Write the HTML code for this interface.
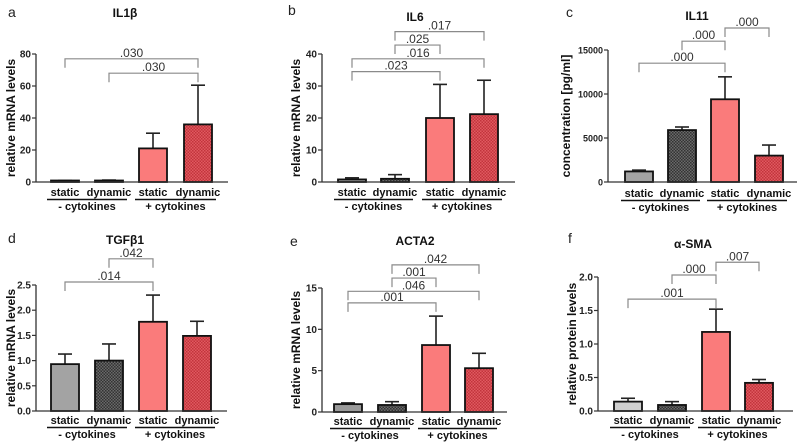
<!DOCTYPE html>
<html><head><meta charset="utf-8"><style>
html,body{margin:0;padding:0;background:#fff;}
svg{display:block;font-family:"Liberation Sans",Arial,sans-serif;}
</style></head><body>
<svg id="fig" width="800" height="443" viewBox="0 0 800 443" xmlns="http://www.w3.org/2000/svg">
<defs>
<pattern id="hatchDark" width="3" height="3" patternUnits="userSpaceOnUse"><rect width="3" height="3" fill="#6a6a6a"/><rect width="1.5" height="1.5" fill="#333"/><rect x="1.5" y="1.5" width="1.5" height="1.5" fill="#333"/></pattern>
<pattern id="hatchRed" width="3" height="3" patternUnits="userSpaceOnUse"><rect width="3" height="3" fill="#e05a60"/><rect width="1.5" height="1.5" fill="#c2343c"/><rect x="1.5" y="1.5" width="1.5" height="1.5" fill="#c2343c"/></pattern>
</defs>
</svg>
<script>
// categories
const categories = ["static","dynamic","static","dynamic"];
const groups = ["- cytokines","+ cytokines"];
// panel a IL1b
const aMeans = [0.7, 0.8, 21, 36];
const aErr = [0.9, 1.2, 30.5, 60.5];
const aTicks = [0, 20, 40, 60, 80];
const aBrackets = [[0,3,77,".030"],[1,3,68,".030"]];
// panel b IL6
const bMeans = [0.8, 1.0, 20, 21.2];
const bErr = [1.3, 2.3, 30.5, 31.8];
const bTicks = [0, 10, 20, 30, 40];
const bBrackets = [[1,3,47,".017"],[1,2,42.8,".025"],[0,3,38.5,".016"],[0,2,34.5,".023"]];
// panel c IL11
const cMeans = [1200, 5900, 9400, 3000];
const cErr = [1350, 6250, 11950, 4200];
const cTicks = [0, 5000, 10000, 15000];
const cBrackets = [[2,3,17500,".000"],[1,2,16000,".000"],[0,2,13500,".000"]];
// panel d TGFb1
const dMeans = [0.93, 1.0, 1.77, 1.49];
const dErr = [1.13, 1.33, 2.3, 1.78];
const dTicks = [0, 0.5, 1.0, 1.5, 2.0, 2.5];
const dBrackets = [[1,2,3.02,".042"],[0,2,2.56,".014"]];
// panel e ACTA2
const eMeans = [0.95, 0.85, 8.1, 5.3];
const eErr = [1.1, 1.25, 11.6, 7.1];
const eTicks = [0, 5, 10, 15];
const eBrackets = [[1,3,17.8,".042"],[1,2,16.2,".001"],[0,3,14.6,".046"],[0,2,13.2,".001"]];
// panel f aSMA
const fMeans = [0.14, 0.09, 1.18, 0.42];
const fErr = [0.19, 0.14, 1.52, 0.47];
const fTicks = [0, 0.5, 1.0, 1.5, 2.0];
const fBrackets = [[2,3,2.22,".007"],[1,2,2.03,".000"],[0,2,1.67,".001"]];

const NS="http://www.w3.org/2000/svg";
const svg=document.getElementById('fig');
function mk(tag,attrs,parent,text){const e=document.createElementNS(NS,tag);for(const k in attrs)e.setAttribute(k,attrs[k]);if(text!==undefined)e.textContent=text;(parent||svg).appendChild(e);return e;}

const panels=[
 {id:'a',letter:'a',lx:8,ly:17,title:'IL1β',tx:125,ty:17,ax:36,axEnd:228,y0:182,yTop:54,max:80,centers:[65,109,153,198],means:aMeans,err:aErr,ticks:aTicks,dec:0,tf:10,br:aBrackets,ylab:'relative mRNA levels',ylx:12,lab:196,c1:'#a3a3a3'},
 {id:'b',letter:'b',lx:288,ly:15,title:'IL6',tx:415,ty:21,ax:322,axEnd:515,y0:182,yTop:54,max:40,centers:[352,395,440,484],means:bMeans,err:bErr,ticks:bTicks,dec:0,tf:10,br:bBrackets,ylab:'relative mRNA levels',ylx:297,lab:196,c1:'#a3a3a3'},
 {id:'c',letter:'c',lx:566,ly:17,title:'IL11',tx:697,ty:20,ax:608,axEnd:797,y0:182,yTop:50,max:15000,centers:[639,682,725,769],means:cMeans,err:cErr,ticks:cTicks,dec:0,tf:9,br:cBrackets,ylab:'concentration [pg/ml]',ylx:567,lab:197,c1:'#a3a3a3'},
 {id:'d',letter:'d',lx:8,ly:243,title:'TGFβ1',tx:125,ty:244,ax:36,axEnd:227,y0:411,yTop:285,max:2.5,centers:[65,109,153,197],means:dMeans,err:dErr,ticks:dTicks,dec:1,tf:10,br:dBrackets,ylab:'relative mRNA levels',ylx:12,lab:424,c1:'#a3a3a3'},
 {id:'e',letter:'e',lx:290,ly:246,title:'ACTA2',tx:415,ty:245,ax:322,axEnd:507,y0:412,yTop:288,max:15,centers:[348,392,436,479],means:eMeans,err:eErr,ticks:eTicks,dec:0,tf:10,br:eBrackets,ylab:'relative mRNA levels',ylx:297,lab:425,c1:'#9a9a9a'},
 {id:'f',letter:'f',lx:568,ly:243,title:'α-SMA',tx:693,ty:248,ax:598,axEnd:793,y0:411,yTop:277,max:2.0,centers:[628,672,716,759],means:fMeans,err:fErr,ticks:fTicks,dec:1,tf:10,br:fBrackets,ylab:'relative protein levels',ylx:573,lab:424,c1:'#cfcfcf'}
];

panels.forEach(p=>{
 const g=mk('g',{});
 
 
 const Y=v=>p.y0-(v/p.max)*(p.y0-p.yTop);
 const pl=mk('text',{x:p.lx,y:p.ly,'font-size':14,fill:'#222'},g,p.letter);
 
 
 const t=mk('text',{x:p.tx,y:p.ty,'font-size':12,'font-weight':'bold','text-anchor':'middle',fill:'#111'},g,p.title);
 
 
 const yl=mk('text',{x:p.ylx,y:(p.y0+p.yTop)/2,'font-size':12,'font-weight':'bold','text-anchor':'middle',fill:'#111',transform:`rotate(-90 ${p.ylx} ${(p.y0+p.yTop)/2})`,'dominant-baseline':'middle'},g,p.ylab);
 
 
 const fills=[p.c1,'url(#hatchDark)','#fa7b7b','url(#hatchRed)'];
 const bw=28;
 p.means.forEach((m,i)=>{
  const cx=p.centers[i];
  const el=mk('line',{x1:cx,x2:cx,y1:Y(m),y2:Y(p.err[i]),stroke:'#222','stroke-width':1.6},g);
  
  
  const cap=mk('line',{x1:cx-7,x2:cx+7,y1:Y(p.err[i]),y2:Y(p.err[i]),stroke:'#222','stroke-width':1.6},g);
  
  
  const h=Math.max(p.y0-Y(m),1.5);
  const r=mk('rect',{x:cx-bw/2,y:p.y0-h,width:bw,height:h,fill:fills[i],stroke:'#111','stroke-width':1.8},g);
  
  
  const cl=mk('text',{x:cx,y:p.lab,'font-size':11,'font-weight':'bold','text-anchor':'middle',fill:'#111'},g,categories[i]);
  
  
 });
 [0,1].forEach(k=>{
  const xa=p.centers[2*k]-bw/2-4, xb=p.centers[2*k+1]+bw/2+4;
  const u=mk('line',{x1:xa,x2:xb,y1:p.lab+3.5,y2:p.lab+3.5,stroke:'#111','stroke-width':1.6},g);
  
  
  const gl=mk('text',{x:(xa+xb)/2,y:p.lab+14,'font-size':11,'font-weight':'bold','text-anchor':'middle',fill:'#111'},g,groups[k]);
  
  
 });
 const ya=mk('line',{x1:p.ax,x2:p.ax,y1:p.yTop,y2:p.y0,stroke:'#333','stroke-width':1.3},g);
 
 
 const xa=mk('line',{x1:p.ax,x2:p.axEnd,y1:p.y0,y2:p.y0,stroke:'#333','stroke-width':1.3},g);
 
 
 p.ticks.forEach(v=>{
  const tk=mk('line',{x1:p.ax-4,x2:p.ax,y1:Y(v),y2:Y(v),stroke:'#333','stroke-width':1.2},g);
  
  
  const tl=mk('text',{x:p.ax-5,y:Y(v)+3.5,'font-size':p.tf,'font-weight':'bold','text-anchor':'end',fill:'#222'},g,v.toFixed(p.dec));
  
  
 });
 p.br.forEach((b,k)=>{
  const x1=p.centers[b[0]],x2=p.centers[b[1]],y=Y(b[2]);
  const pth=mk('path',{d:`M${x1} ${y+9}V${y}H${x2}V${y+9}`,fill:'none',stroke:'#8a8a8a','stroke-width':1.2},g);
  
  
  const bl=mk('text',{x:(x1+x2)/2,y:y-2,'font-size':12,'text-anchor':'middle',fill:'#333'},g,b[3]);
  
  
 });
});
</script>
</body></html>
